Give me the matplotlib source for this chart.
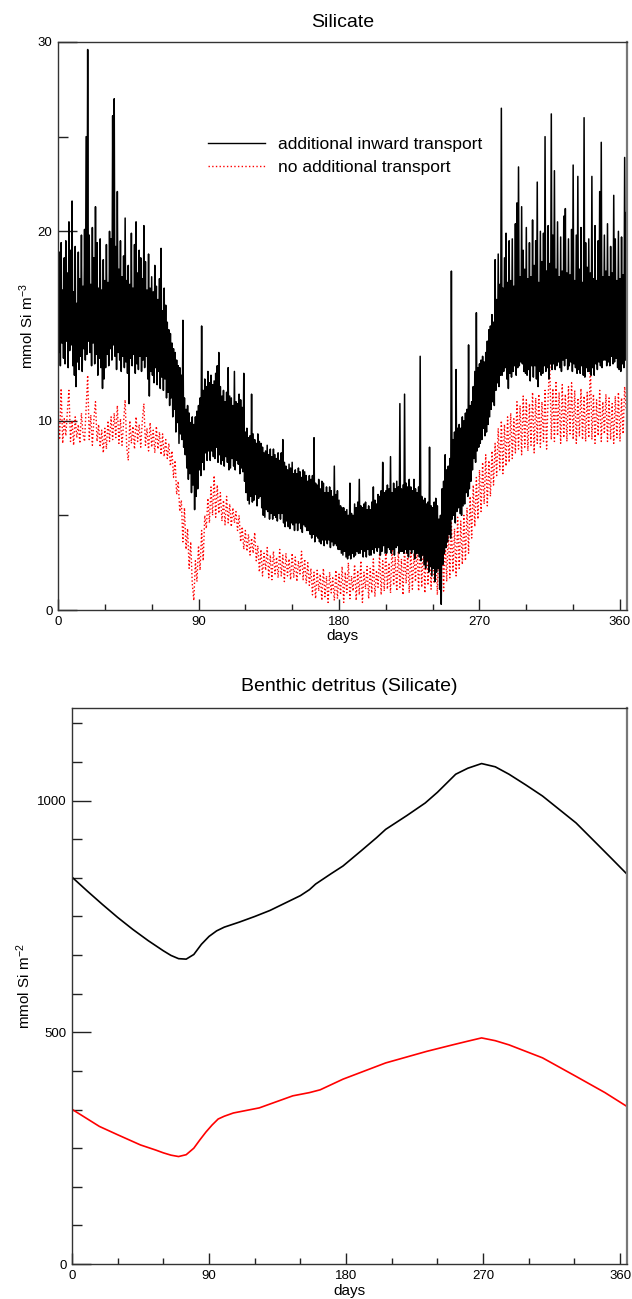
import numpy as np
import matplotlib.pyplot as plt
from matplotlib.ticker import MultipleLocator

plt.rcParams['font.family'] = ['Liberation Sans', 'DejaVu Sans']
plt.rcParams['mathtext.default'] = 'regular'

# silicate with additional inward transport, half-day values (mmol Si m-3)
si_inward = [
    17.2, 13.6, 18.9, 12.9, 19.4, 14.1, 16.9, 13.3, 18.6, 13.0, 19.5, 14.2, 17.8, 12.8, 20.5, 13.7, 19.0, 14.0, 21.6, 12.9,
    16.8, 12.4, 19.2, 11.8, 16.2, 13.1, 18.9, 12.7, 17.5, 13.4, 19.8, 12.6, 17.1, 13.8, 20.1, 13.2, 25.0, 13.5, 29.6, 14.2,
    19.8, 13.6, 17.2, 12.9, 20.2, 14.1, 18.6, 13.0, 21.3, 13.5, 19.4, 12.4, 17.0, 13.3, 19.6, 12.8, 16.9, 11.7, 18.5, 12.2,
    17.4, 12.8, 19.3, 13.5, 17.3, 12.9, 20.0, 13.8, 19.6, 13.2, 26.1, 14.0, 27.0, 13.4, 19.2, 12.7, 22.1, 13.6, 18.0, 13.2,
    19.5, 12.6, 17.6, 13.4, 18.7, 12.8, 20.7, 13.1, 17.4, 12.5, 18.2, 10.9, 17.2, 13.3, 19.9, 12.9, 17.0, 13.5, 19.3, 12.5,
    20.5, 13.0, 17.8, 12.7, 19.0, 13.4, 18.6, 12.6, 17.5, 13.2, 20.3, 12.8, 18.4, 13.4, 16.9, 12.2, 18.8, 11.3, 17.0, 12.6,
    17.6, 12.4, 16.8, 12.0, 18.2, 12.8, 17.1, 11.9, 16.4, 12.6, 17.5, 11.7, 19.1, 12.3, 15.8, 11.6, 17.0, 12.2, 16.1, 11.2,
    15.2, 11.5, 14.8, 10.8, 14.6, 11.2, 14.1, 10.2, 13.8, 10.6, 13.6, 9.4, 13.2, 9.9, 12.9, 8.8, 12.8, 9.3, 12.4, 9.0,
    15.3, 8.6, 11.2, 8.2, 10.6, 7.5, 10.8, 6.9, 10.4, 7.2, 9.9, 6.2, 10.2, 6.6, 9.8, 5.3, 10.2, 6.0, 10.5, 6.4,
    10.8, 7.4, 11.2, 7.1, 15.0, 7.8, 11.6, 7.4, 12.2, 8.3, 11.8, 7.9, 12.6, 8.4, 12.0, 7.9, 12.4, 8.4, 11.9, 8.1,
    12.1, 8.0, 12.5, 8.6, 12.9, 7.8, 13.6, 8.2, 11.8, 7.7, 11.3, 7.9, 11.6, 7.6, 11.0, 8.1, 11.5, 7.8, 12.8, 7.4,
    11.3, 7.5, 11.2, 8.0, 10.8, 7.6, 12.6, 7.4, 11.0, 7.9, 10.9, 7.7, 11.4, 7.2, 11.1, 7.5, 10.7, 7.3, 12.5, 6.8,
    9.4, 6.2, 9.6, 5.8, 9.1, 5.6, 9.2, 6.0, 11.4, 5.7, 9.3, 5.8, 9.0, 6.1, 8.8, 5.5, 9.3, 5.9, 8.9, 6.0,
    8.8, 5.4, 8.6, 5.0, 8.3, 4.9, 8.4, 5.3, 8.7, 5.2, 8.2, 4.8, 8.5, 5.1, 8.1, 4.8, 8.5, 5.0, 8.2, 4.9,
    8.0, 4.7, 8.3, 5.1, 7.9, 4.8, 8.3, 5.1, 9.0, 4.6, 7.8, 4.4, 7.6, 4.7, 7.4, 4.4, 7.7, 4.3, 7.5, 4.6,
    7.8, 4.5, 7.2, 4.2, 7.4, 4.6, 7.2, 4.2, 7.5, 4.6, 7.3, 4.3, 7.0, 4.1, 7.4, 4.5, 7.3, 4.4, 7.1, 4.2,
    6.8, 4.2, 7.1, 4.0, 6.9, 3.8, 7.1, 4.0, 9.1, 3.6, 6.7, 3.9, 6.6, 3.8, 6.9, 3.6, 6.4, 3.5, 6.8, 3.7,
    6.7, 3.4, 6.2, 3.7, 6.5, 3.5, 6.2, 3.7, 6.5, 3.3, 6.3, 3.6, 6.0, 3.4, 7.6, 3.5, 6.1, 3.4, 6.3, 3.2,
    5.8, 3.2, 5.5, 3.0, 5.4, 2.9, 5.4, 3.1, 5.2, 2.8, 5.3, 2.7, 5.0, 2.9, 6.7, 2.7, 5.1, 3.0, 5.0, 2.8,
    5.6, 2.9, 5.4, 3.1, 5.7, 3.0, 6.9, 3.0, 5.5, 3.2, 5.4, 2.8, 5.6, 3.1, 5.7, 2.8, 5.3, 3.2, 5.5, 2.9,
    5.3, 2.9, 5.7, 3.2, 6.5, 3.0, 5.8, 3.3, 5.6, 3.1, 6.1, 3.3, 6.0, 2.9, 6.3, 3.1, 7.8, 3.4, 6.2, 3.0,
    6.3, 3.0, 6.6, 3.3, 6.4, 3.2, 8.1, 3.0, 6.2, 3.2, 6.7, 2.9, 6.4, 3.3, 6.8, 3.4, 6.5, 3.0, 10.9, 3.1,
    6.4, 3.1, 6.6, 3.0, 11.4, 3.2, 6.7, 3.0, 6.5, 2.8, 6.9, 3.2, 6.5, 3.0, 6.3, 3.2, 6.9, 2.7, 6.4, 3.0,
    6.2, 3.0, 6.5, 2.8, 13.4, 2.6, 6.0, 2.9, 5.8, 2.4, 5.9, 2.2, 5.6, 2.6, 5.7, 2.0, 8.6, 2.3, 5.5, 1.8,
    5.4, 2.2, 5.7, 1.5, 5.9, 2.0, 5.5, 2.2, 4.8, 1.1, 5.0, 0.3, 6.4, 2.4, 6.8, 3.0, 8.2, 3.3, 7.4, 3.6,
    7.6, 4.0, 8.0, 3.8, 17.9, 4.8, 9.0, 5.0, 9.4, 4.6, 12.7, 5.2, 9.6, 5.4, 9.8, 5.1, 9.6, 5.0, 10.2, 5.5,
    10.0, 5.6, 10.4, 6.2, 10.6, 6.0, 14.0, 6.4, 10.8, 6.8, 11.0, 7.4, 11.8, 8.0, 12.6, 7.8, 15.7, 8.4, 12.8, 8.6,
    13.0, 8.8, 13.2, 9.0, 13.4, 9.6, 13.1, 9.2, 13.6, 9.4, 14.2, 9.8, 14.8, 10.2, 15.0, 10.6, 15.6, 11.0, 15.2, 10.8,
    18.5, 11.6, 16.4, 12.0, 18.8, 11.8, 17.2, 12.4, 26.5, 12.4, 17.0, 12.6, 18.6, 12.8, 19.9, 12.2, 17.3, 11.7, 19.5, 12.5,
    17.4, 12.3, 19.6, 12.6, 17.1, 12.9, 20.4, 12.4, 21.5, 12.8, 23.4, 12.9, 17.6, 13.1, 21.3, 13.0, 19.0, 12.6, 18.0, 12.5,
    20.2, 12.4, 17.5, 12.7, 19.4, 12.1, 17.6, 12.9, 20.6, 12.3, 18.2, 12.9, 19.5, 12.2, 22.6, 11.8, 17.3, 12.6, 20.0, 12.4,
    18.4, 12.5, 19.9, 12.9, 25.0, 12.6, 17.9, 12.8, 20.3, 12.2, 18.3, 13.0, 26.2, 12.7, 19.8, 13.0, 23.2, 12.7, 18.0, 12.9,
    20.5, 13.1, 17.6, 12.8, 19.7, 12.6, 17.9, 13.2, 20.8, 12.9, 21.2, 13.3, 17.8, 12.7, 19.6, 12.9, 17.7, 13.1, 20.1, 12.6,
    23.5, 13.0, 17.4, 12.8, 19.8, 12.5, 22.9, 12.7, 18.0, 12.5, 20.2, 12.9, 17.3, 12.4, 26.0, 12.3, 19.4, 12.8, 18.1, 12.6,
    19.6, 12.6, 17.8, 12.4, 22.9, 12.8, 17.5, 12.4, 20.3, 13.0, 17.4, 12.7, 19.5, 13.1, 22.1, 12.9, 24.7, 12.8, 17.6, 13.2,
    19.8, 13.2, 17.9, 12.9, 20.4, 13.1, 17.6, 12.9, 19.2, 13.4, 17.8, 13.0, 21.9, 13.1, 19.6, 13.3, 17.4, 12.8, 20.0, 12.7,
    17.5, 12.6, 19.7, 13.0, 17.7, 12.8, 23.9, 13.2, 21.0, 13.5,
]
# silicate without additional transport, daily values (mmol Si m-3)
si_none = [
    10.3, 9.0, 11.7, 8.8, 10.1, 9.2, 10.5, 11.6, 8.9, 10.0,
    8.7, 10.2, 9.1, 9.8, 8.8, 10.4, 9.3, 8.9, 10.6, 12.4,
    9.0, 10.3, 8.7, 10.1, 11.0, 8.9, 9.8, 8.6, 9.5, 8.3,
    9.6, 8.5, 10.0, 8.9, 10.2, 9.0, 10.4, 9.1, 10.8, 8.8,
    10.1, 8.7, 9.9, 11.1, 8.6, 7.9, 10.0, 8.8, 9.7, 8.5,
    10.2, 8.9, 9.8, 8.6, 10.0, 10.9, 8.7, 9.6, 8.4, 9.9,
    8.6, 9.5, 8.3, 9.7, 8.5, 9.4, 8.2, 9.3, 8.1, 9.0,
    8.0, 8.8, 7.6, 8.4, 7.0, 7.9, 6.1, 6.8, 5.2, 5.8,
    3.6, 5.4, 3.2, 4.3, 2.2, 3.6, 1.4, 0.5, 2.6, 1.5,
    3.4, 2.1, 4.2, 2.6, 5.0, 4.3, 5.9, 4.6, 6.5, 5.0,
    7.1, 4.9, 6.6, 5.1, 6.2, 4.7, 5.8, 4.5, 6.0, 4.6,
    5.6, 4.4, 5.4, 4.6, 5.2, 4.2, 5.0, 3.6, 4.4, 3.2,
    4.2, 3.1, 4.0, 2.9, 3.8, 3.0, 4.1, 2.6, 3.4, 2.0,
    3.2, 1.8, 3.0, 2.1, 3.3, 1.7, 2.9, 1.6, 3.1, 1.9,
    2.8, 1.7, 3.2, 1.8, 2.9, 1.5, 3.0, 1.8, 2.7, 1.6,
    3.0, 1.7, 2.8, 1.5, 2.6, 1.9, 3.1, 1.6, 2.7, 1.4,
    2.5, 1.3, 2.2, 0.8, 2.0, 0.6, 2.1, 1.0, 1.9, 0.5,
    2.2, 0.7, 1.8, 0.4, 2.0, 0.9, 1.7, 0.5, 2.1, 0.6,
    1.9, 0.8, 2.3, 0.4, 2.0, 0.9, 2.5, 0.6, 1.8, 1.0,
    2.4, 0.5, 2.1, 0.8, 2.6, 0.4, 2.0, 1.1, 2.3, 0.6,
    2.2, 0.9, 2.7, 0.7, 2.1, 1.2, 3.0, 0.8, 2.6, 1.0,
    3.2, 1.1, 2.5, 0.9, 3.4, 1.3, 2.8, 1.0, 3.1, 1.2,
    2.7, 0.8, 3.3, 1.4, 2.9, 0.9, 3.2, 1.1, 3.0, 1.5,
    3.4, 1.0, 3.8, 1.2, 3.5, 0.9, 4.0, 1.3, 3.6, 1.1,
    4.1, 1.4, 3.7, 0.8, 3.9, 1.2, 4.2, 1.0, 3.8, 1.5,
    4.4, 1.7, 4.6, 2.0, 4.3, 1.8, 4.9, 2.2, 4.7, 2.4,
    5.0, 2.6, 5.4, 3.0, 6.0, 3.8, 6.6, 4.4, 7.0, 4.8,
    7.4, 5.2, 7.8, 5.6, 8.2, 5.5, 7.9, 6.0, 8.4, 6.6,
    8.8, 7.1, 9.6, 7.4, 10.0, 7.2, 9.8, 7.6, 10.2, 7.8,
    10.4, 8.0, 10.1, 8.3, 11.0, 8.5, 10.8, 8.2, 11.3, 8.6,
    11.1, 8.4, 10.9, 8.7, 11.5, 8.3, 11.2, 8.8, 11.4, 8.6,
    11.0, 8.9, 11.6, 8.5, 11.3, 13.1, 9.0, 11.7, 8.9, 12.1,
    9.2, 11.5, 8.8, 11.9, 9.1, 11.4, 8.9, 11.8, 9.3, 12.0,
    9.0, 11.6, 8.8, 11.2, 9.2, 11.7, 9.0, 11.3, 8.9, 11.5,
    9.1, 13.3, 9.0, 11.4, 8.8, 11.1, 9.2, 11.6, 8.9, 11.0,
    9.3, 11.4, 8.9, 11.2, 9.0, 10.9, 8.8, 11.3, 9.1, 11.5,
    8.9, 11.2, 9.3, 11.8, 10.6,
]
days_half = np.arange(len(si_inward)) / 2
days = np.arange(len(si_none))

# benthic detritus (mmol Si m-2)
bd_days_inward = [0, 10, 20, 25, 30, 40, 50, 60, 65, 70, 75, 80, 85, 90, 95, 100,
                  110, 120, 130, 140, 150, 156, 160, 170, 178, 190, 200, 206, 220,
                  232, 240, 252, 260, 269, 278, 287, 298, 309, 320, 331, 345, 355, 364]
bd_inward = [835, 805, 776, 762, 748, 722, 698, 676, 666, 659, 658, 668, 690, 707, 719, 727,
             738, 750, 763, 779, 795, 808, 820, 842, 859, 892, 920, 938, 968,
             995, 1018, 1057, 1070, 1080, 1073, 1057, 1034, 1010, 981, 952, 906, 873, 843]
bd_days_none = [0, 18, 30, 45, 55, 60, 65, 70, 75, 80, 84, 88, 92, 96, 100, 106, 123,
                145, 156, 163, 178, 206, 233, 250, 260, 269, 278, 287, 309, 331, 350, 364]
bd_none = [334, 297, 279, 257, 246, 240, 235, 232, 236, 250, 268, 285, 300, 313, 319, 326, 337,
           363, 370, 376, 399, 434, 459, 473, 481, 488, 482, 473, 445, 405, 370, 341]

fig = plt.figure(figsize=(6.32, 12.99), dpi=100)


def style_axes(ax, ymajor, yminor):
    ax.xaxis.set_major_locator(MultipleLocator(90))
    ax.xaxis.set_minor_locator(MultipleLocator(30))
    ax.yaxis.set_major_locator(MultipleLocator(ymajor))
    ax.yaxis.set_minor_locator(MultipleLocator(yminor))
    ax.tick_params(which='both', direction='in', top=False, right=False,
                   labelsize=9.5, width=1.0, color='#222222')
    ax.tick_params(axis='x', which='major', length=8, pad=4)
    ax.tick_params(axis='x', which='minor', length=4.5)
    ax.tick_params(axis='y', which='major', length=14, pad=4)
    ax.tick_params(axis='y', which='minor', length=7.5)
    for side in ['left', 'bottom', 'top']:
        ax.spines[side].set_linewidth(1.0)
        ax.spines[side].set_color('#333333')
    ax.spines['right'].set_linewidth(1.6)
    ax.spines['right'].set_color('#777777')
    ax.set_xlim(0, 364.5)


# top panel
ax1 = fig.add_axes([0.0918, 0.5304, 0.9003, 0.4373])
l2, = ax1.plot(days, si_none, color='red', lw=1.0, ls=':', label='no additional transport')
l1, = ax1.plot(days_half, si_inward, color='black', lw=1.1, label='additional inward transport')
ax1.set_ylim(0, 30)
style_axes(ax1, 10, 5)
ax1.set_title('Silicate', fontsize=14, pad=11)
ax1.set_xlabel('days', fontsize=11, labelpad=1)
ax1.set_ylabel('mmol Si m$^{-3}$', fontsize=11, labelpad=1.5)
leg = ax1.legend(handles=[l1, l2], loc='upper left', bbox_to_anchor=(0.2636, 0.833),
                 frameon=False, fontsize=12.5, handlelength=3.3, handletextpad=0.75,
                 labelspacing=0.47, borderpad=0, borderaxespad=0)
leg.get_lines()[0].set_linewidth(1.0)

# bottom panel
ax2 = fig.add_axes([0.1139, 0.0269, 0.8782, 0.4281])
ax2.plot(bd_days_inward, bd_inward, color='black', lw=1.2)
ax2.plot(bd_days_none, bd_none, color='red', lw=1.2)
ax2.set_ylim(0, 1200)
style_axes(ax2, 500, 500 / 6)
ax2.set_title('Benthic detritus (Silicate)', fontsize=14, pad=12)
ax2.set_xlabel('days', fontsize=11, labelpad=2)
ax2.set_ylabel('mmol Si m$^{-2}$', fontsize=11, labelpad=2.5)

fig.savefig('out.png', dpi=100)
